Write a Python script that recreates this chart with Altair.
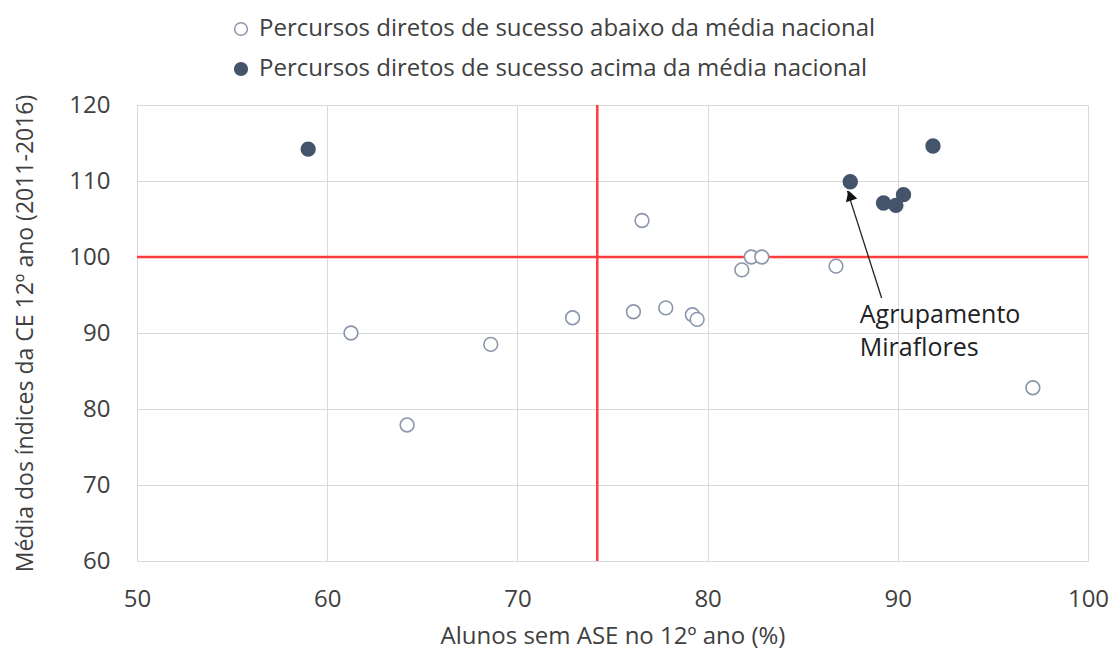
import altair as alt
import pandas as pd

# Data
below_x = [61.25, 64.2, 68.6, 72.9, 76.55, 76.1, 77.8, 79.2, 79.45, 81.8, 82.3, 82.85, 86.75, 97.1]
below_y = [90.0, 77.9, 88.5, 92.0, 104.8, 92.8, 93.3, 92.4, 91.8, 98.3, 100.0, 100.0, 98.8, 82.8]
above_x = [59.0, 87.5, 89.25, 89.9, 90.3, 91.85]
above_y = [114.2, 109.9, 107.1, 106.8, 108.2, 114.6]

cat_below = "Percursos diretos de sucesso abaixo da média nacional"
cat_above = "Percursos diretos de sucesso acima da média nacional"

ref_x = [74.2]
ref_y = [100.0]

arrow_from = [89.15, 94.6]
arrow_to = [87.35, 108.7]
label_pos = [88.0, 92.4]
label_lines = ["Agrupamento", "Miraflores"]

FONT = "Open Sans"
TXT = "#404040"

pts = pd.DataFrame(
    {"x": below_x + above_x,
     "y": below_y + above_y,
     "cat": [cat_below] * len(below_x) + [cat_above] * len(above_x)}
)

xs = alt.Scale(domain=[50, 100], nice=False, zero=False)
ys = alt.Scale(domain=[60, 120], nice=False, zero=False)

xax = alt.Axis(values=[50, 60, 70, 80, 90, 100], title="Alunos sem ASE no 12º ano (%)",
               grid=True, gridColor="#d9d9d9", domain=False, ticks=False, labelFlush=False,
               labelFontSize=24, labelColor=TXT, labelFont=FONT, labelPadding=26,
               titleFontSize=24, titleFont=FONT, titleColor=TXT, titleFontWeight="normal",
               titlePadding=13)
yax = alt.Axis(values=[60, 70, 80, 90, 100, 110, 120],
               title="Média dos índices da CE 12º ano (2011-2016)",
               grid=True, gridColor="#d9d9d9", domain=False, ticks=False, labelFlush=False,
               labelFontSize=24, labelColor=TXT, labelFont=FONT, labelPadding=27,
               titleFontSize=23, titleFont=FONT, titleColor=TXT, titleFontWeight="normal",
               titlePadding=31)

leg = dict(title=None, orient="none", legendX=92, legendY=-88,
           labelFontSize=24, labelFont=FONT, labelColor=TXT,
           symbolSize=160, rowPadding=16, labelLimit=900, labelOffset=6,
           symbolStrokeWidth=1.5)

points = alt.Chart(pts).mark_point(filled=True, size=190, strokeWidth=1.6, opacity=1).encode(
    x=alt.X("x:Q", scale=xs, axis=xax),
    y=alt.Y("y:Q", scale=ys, axis=yax),
    fill=alt.Fill("cat:N", scale=alt.Scale(domain=[cat_below, cat_above], range=["white", "#44546A"]),
                  legend=alt.Legend(**leg)),
    stroke=alt.Stroke("cat:N", scale=alt.Scale(domain=[cat_below, cat_above], range=["#8a97ab", "#44546A"]),
                      legend=alt.Legend(**leg)),
)

vline = alt.Chart(pd.DataFrame({"x": ref_x})).mark_rule(color="#ff3b3b", strokeWidth=2.5).encode(
    x=alt.X("x:Q", scale=xs)
)
hline = alt.Chart(pd.DataFrame({"y": ref_y})).mark_rule(color="#ff3b3b", strokeWidth=2.5).encode(
    y=alt.Y("y:Q", scale=ys)
)

arrow_df = pd.DataFrame({"x": [arrow_from[0]], "y": [arrow_from[1]],
                         "x2": [arrow_to[0]], "y2": [arrow_to[1]]})
arrow_line = alt.Chart(arrow_df).mark_rule(color="#222222", strokeWidth=1.3).encode(
    x=alt.X("x:Q", scale=xs), y=alt.Y("y:Q", scale=ys), x2="x2:Q", y2="y2:Q"
)
head_df = pd.DataFrame({"x": [arrow_to[0] + 0.14], "y": [arrow_to[1] - 0.6]})
arrow_head = alt.Chart(head_df).mark_point(shape="triangle-up", filled=True, color="#111111",
                                           size=140, angle=342, opacity=1).encode(
    x=alt.X("x:Q", scale=xs), y=alt.Y("y:Q", scale=ys)
)

lab_df = pd.DataFrame({"x": [label_pos[0]], "y": [label_pos[1]], "t": [label_lines]})
label = alt.Chart(lab_df).mark_text(align="left", baseline="middle", fontSize=25, font=FONT,
                                    color="#222222", lineHeight=33).encode(
    x=alt.X("x:Q", scale=xs), y=alt.Y("y:Q", scale=ys), text="t:N"
)

chart = alt.layer(vline, hline, points, arrow_line, arrow_head, label).properties(
    width=951, height=456,
    autosize=alt.AutoSizeParams(type="none"),
    padding={"left": 129, "top": 97, "right": 22, "bottom": 88},
).configure_view(stroke=None)

chart.save("out.html", embed_options={"renderer": "svg", "actions": False})
